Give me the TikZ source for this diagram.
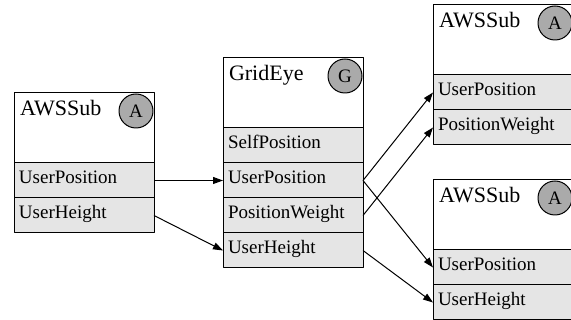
\documentclass[tikz,border=0pt]{standalone}
\usepackage{fontspec}
\setmainfont{Liberation Serif}
\usetikzlibrary{positioning,arrows.meta}
\definecolor{rowgray}{RGB}{229,229,229}
\definecolor{tokengray}{RGB}{170,170,170}
\begin{document}
\begin{tikzpicture}[x=1pt, y=-1pt, line width=1pt, line join=round, >={Triangle[length=10pt,width=7pt]}, node distance=0pt,
	head/.style={draw, fill=white, outer sep=0pt, inner sep=0pt, inner xsep=6pt, text width=128pt, align=left, text height=23pt, text depth=47pt, font=\fontsize{22}{24}\selectfont, anchor=north west},
	field/.style={draw, fill=rowgray, outer sep=0pt, inner sep=0pt, inner xsep=5pt, text width=130pt, align=left, text height=21pt, text depth=14pt, font=\fontsize{19}{21}\selectfont},
	token/.style={circle, draw, fill=tokengray, minimum size=34pt, inner sep=0pt, font=\fontsize{19}{21}\selectfont, xshift=-18pt, yshift=-18pt}]
	\useasboundingbox (0,0) rectangle (571,320);
	% Khung trái
	\node[head] (L0) at (14,93) {AWSSub};
	\node[token] (La) at (L0.north east) {A};
	\node[field, below=of L0] (L1) {UserPosition};
	\node[field, below=of L1] (L2) {UserHeight};
	% Khung giữa
	\node[head] (M0) at (223,58) {GridEye};
	\node[token] (Mg) at (M0.north east) {G};
	\node[field, below=of M0] (M1) {SelfPosition};
	\node[field, below=of M1] (M2) {UserPosition};
	\node[field, below=of M2] (M3) {PositionWeight};
	\node[field, below=of M3] (M4) {UserHeight};
	% Khung phải trên
	\node[head] (T0) at (433,5) {AWSSub};
	\node[token] (Ta) at (T0.north east) {A};
	\node[field, below=of T0] (T1) {UserPosition};
	\node[field, below=of T1] (T2) {PositionWeight};
	% Khung phải dưới
	\node[head] (B0) at (433,180) {AWSSub};
	\node[token] (Ba) at (B0.north east) {A};
	\node[field, below=of B0] (B1) {UserPosition};
	\node[field, below=of B1] (B2) {UserHeight};
	% Mũi tên
	\foreach \s/\t in {L1/M2,L2/M4,M2/T1,M3/T2,M2/B1,M4/B2}
	\draw[->] (\s.east) -- (\t.west);
\end{tikzpicture}
\end{document}
